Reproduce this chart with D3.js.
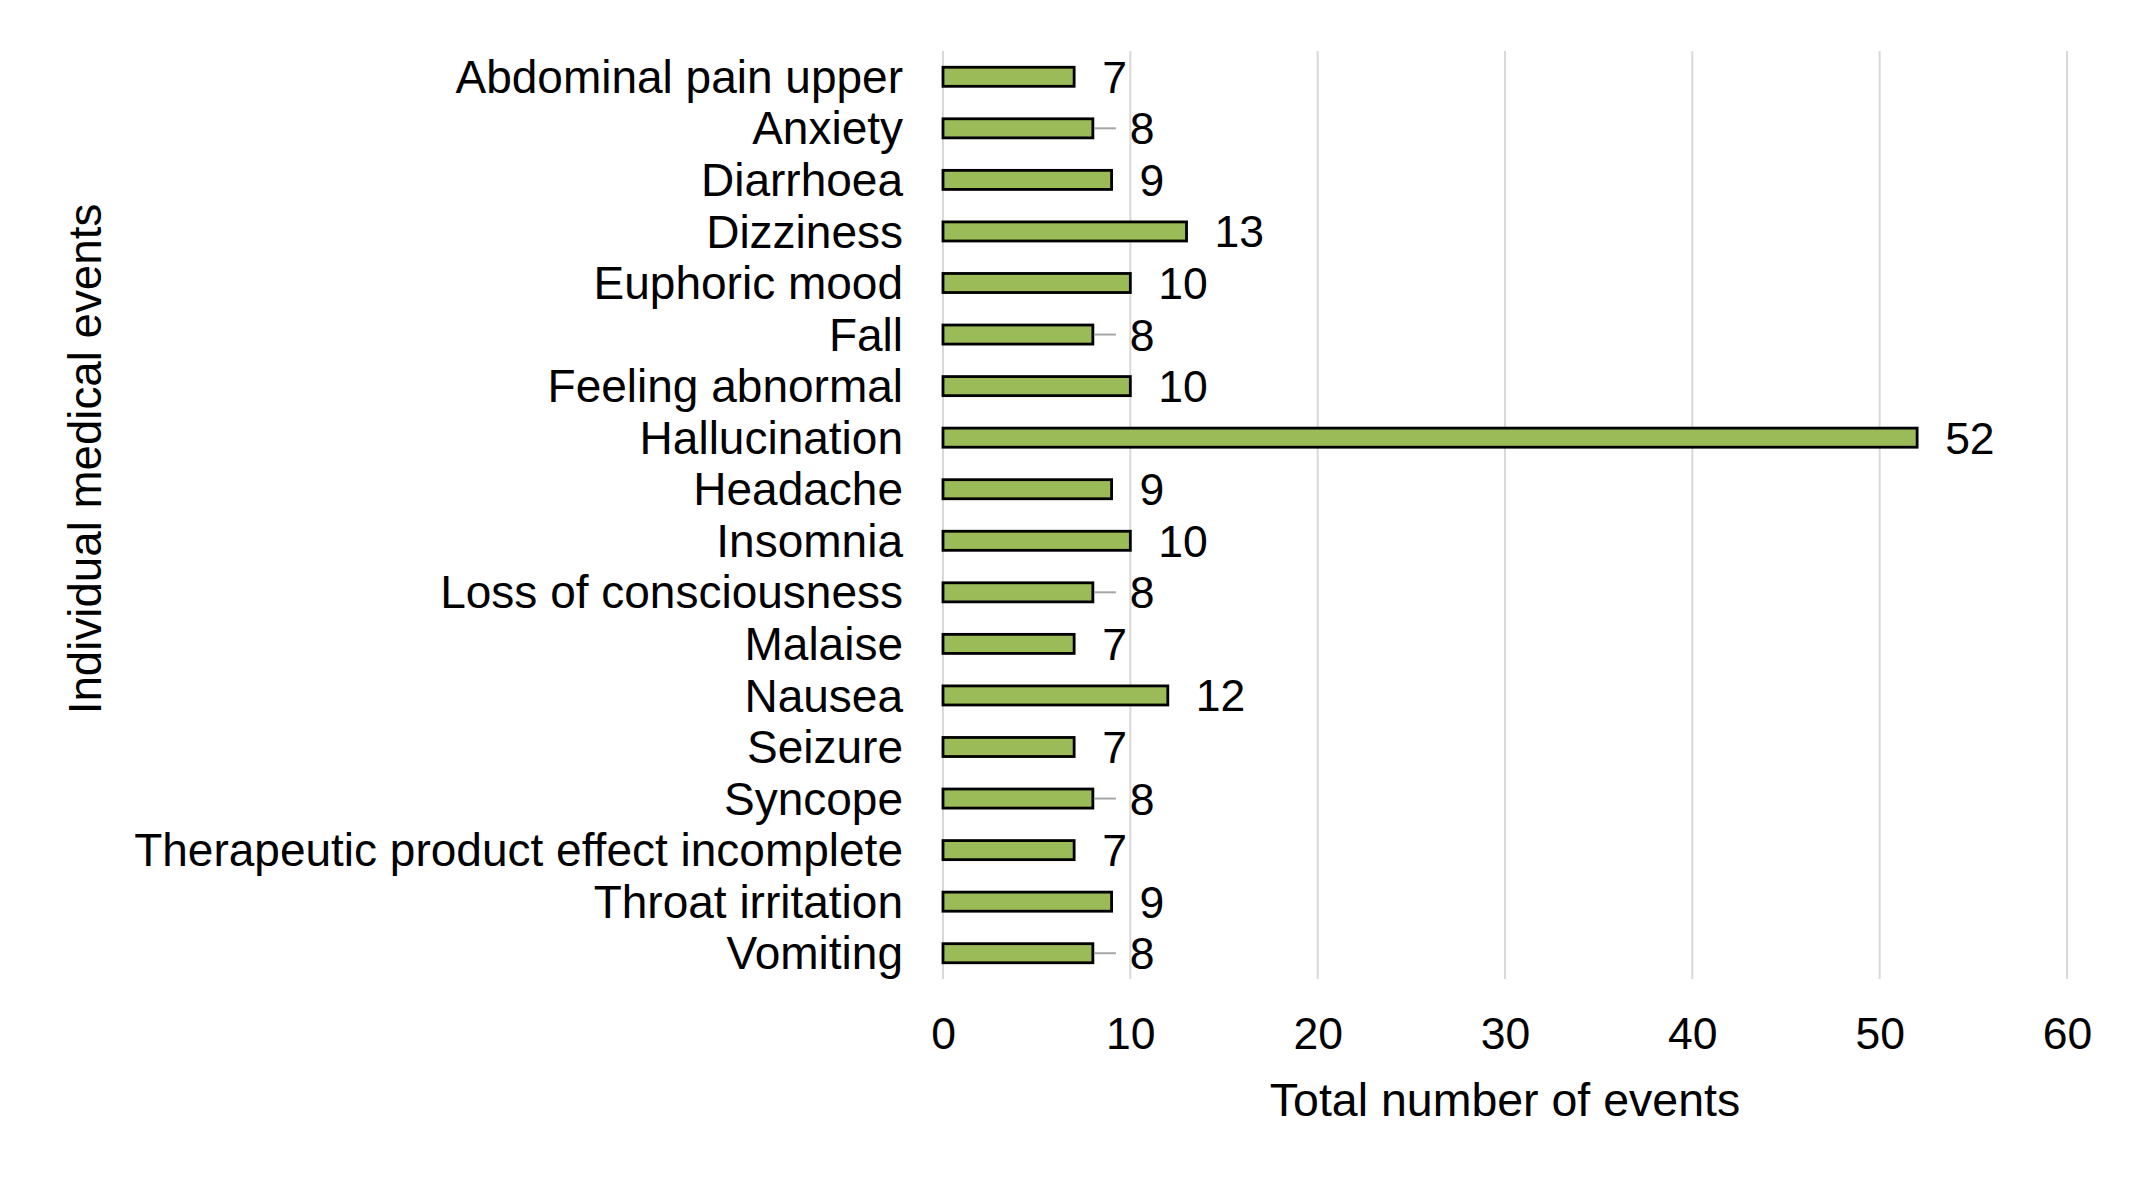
<!DOCTYPE html>
<html>
<head>
<meta charset="utf-8">
<script src="https://cdn.jsdelivr.net/npm/d3@7/dist/d3.min.js"></script>
<style>
  html, body { margin: 0; padding: 0; background: #fff; }
  svg { display: block; font-family: "Liberation Sans", Arial, sans-serif; }
  svg text { font-family: "Liberation Sans", Arial, sans-serif; }
</style>
</head>
<body>
<svg id="chart" width="2144" height="1182"></svg>
<script>
const categories = [
  "Abdominal pain upper", "Anxiety", "Diarrhoea", "Dizziness", "Euphoric mood",
  "Fall", "Feeling abnormal", "Hallucination", "Headache", "Insomnia",
  "Loss of consciousness", "Malaise", "Nausea", "Seizure", "Syncope",
  "Therapeutic product effect incomplete", "Throat irritation", "Vomiting"
];
const values = [7, 8, 9, 13, 10, 8, 10, 52, 9, 10, 8, 7, 12, 7, 8, 7, 9, 8];
const xTicks = [0, 10, 20, 30, 40, 50, 60];
const leaderLabels = ["Anxiety", "Fall", "Loss of consciousness", "Syncope", "Vomiting"];
const xTitle = "Total number of events";
const yTitle = "Individual medical events";

const FONT = "'Liberation Sans', Arial, sans-serif";
const data = categories.map((c, i) => ({ cat: c, val: values[i] }));

const svg = d3.select("#chart");
const plot = { left: 943, right: 2067, top: 51, bottom: 979 };

const x = d3.scaleLinear().domain([0, 60]).range([plot.left, plot.right]);
const y = d3.scaleBand().domain(categories).range([plot.top, plot.bottom]).paddingInner(0.63).paddingOuter(0.315);

// gridlines
svg.append("g").selectAll("line").data(xTicks).join("line")
  .attr("x1", d => x(d)).attr("x2", d => x(d))
  .attr("y1", plot.top).attr("y2", plot.bottom)
  .attr("stroke", "#d9d9d9").attr("stroke-width", 2);

// x axis tick labels
const xAxis = d3.axisBottom(x).tickValues(xTicks).tickSize(0).tickPadding(0);
const gx = svg.append("g").attr("transform", `translate(0,${plot.bottom})`).call(xAxis);
gx.select(".domain").remove();
gx.selectAll("text").attr("font-size", 44.5).attr("font-family", FONT)
  .attr("fill", "#000").attr("dy", null).attr("y", 70);

// y axis labels
const yAxis = d3.axisLeft(y).tickSize(0).tickPadding(40);
const gy = svg.append("g").attr("transform", `translate(${plot.left},0)`).call(yAxis);
gy.select(".domain").remove();
gy.selectAll("text").attr("font-size", 46).attr("font-family", FONT)
  .attr("fill", "#000").attr("dy", "0.35em");

// bars
svg.append("g").selectAll("rect").data(data).join("rect")
  .attr("x", x(0))
  .attr("y", d => y(d.cat))
  .attr("width", d => x(d.val) - x(0))
  .attr("height", y.bandwidth())
  .attr("fill", "#9bbb59")
  .attr("stroke", "#000")
  .attr("stroke-width", 2.8);

// leader lines
svg.append("g").selectAll("line").data(data.filter(d => leaderLabels.includes(d.cat))).join("line")
  .attr("x1", d => x(d.val) + 1).attr("x2", d => x(d.val) + 23)
  .attr("y1", d => y(d.cat) + y.bandwidth() / 2)
  .attr("y2", d => y(d.cat) + y.bandwidth() / 2)
  .attr("stroke", "#a6a6a6").attr("stroke-width", 2);

// value labels
svg.append("g").selectAll("text").data(data).join("text")
  .attr("x", d => x(d.val) + (leaderLabels.includes(d.cat) ? 37 : 28))
  .attr("y", d => y(d.cat) + y.bandwidth() / 2)
  .attr("dy", "0.36em")
  .attr("font-size", 44.5)
  .attr("font-family", FONT)
  .attr("fill", "#000")
  .text(d => d.val);

// axis titles
svg.append("text")
  .attr("x", (plot.left + plot.right) / 2)
  .attr("y", 1116)
  .attr("text-anchor", "middle")
  .attr("font-size", 46.5)
  .attr("font-family", FONT)
  .attr("fill", "#000")
  .text(xTitle);

svg.append("text")
  .attr("transform", `translate(101,459) rotate(-90)`)
  .attr("text-anchor", "middle")
  .attr("font-size", 45.7)
  .attr("font-family", FONT)
  .attr("fill", "#000")
  .text(yTitle);
</script>
</body>
</html>
